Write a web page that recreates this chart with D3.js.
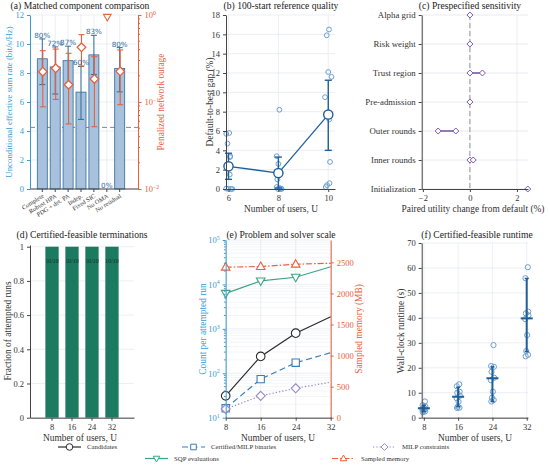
<!DOCTYPE html>
<html><head><meta charset="utf-8">
<script src="https://cdn.jsdelivr.net/npm/d3@7"></script>
<style>body{margin:0;background:#fff}svg{display:block}</style>
</head><body><svg id="c" width="550" height="468"></svg>
<script>
// ---------- data ----------
// (a) matched component comparison
const compCategories = ["Complete","Robust HPA","PDG + det. PA","Indep.","Fixed SIC","No OMA","No residual"];
const compRate   = [8.98, 8.42, 8.85, 6.68, 9.25, 0, 8.32];
const compRateLo = [7.2, 6.55, 7.3, 4.8, 7.9, 0, 6.7];
const compRateHi = [10.35, 9.8, 9.85, 8.45, 10.6, 0, 9.75];
const compSuccess = ["80%","72%","87%","60%","83%","0%","80%"];
const compOutage   = [0.223, 0.244, 0.158, 0.425, 0.184, 1.0, 0.225];
const compOutageLo = [0.088, 0.107, 0.056, 0.259, 0.052, null, 0.093];
const compOutageHi = [0.389, 0.406, 0.363, 0.594, 0.332, null, 0.396];
const rateReference = 4.25;
const rateTicks = [0,2,4,6,8,10,12];
// (b) 100-start reference quality
const gapUsers = [6, 8, 10];
const gapMean = [2.35, 1.65, 7.7];
const gapLo = [1.0, 0.1, 4.0];
const gapHi = [3.7, 3.3, 11.25];
const gapRuns = [
  [5.7, 5.8, 4.7, 3.4, 3.3, 1.5, 0.05, 0, 0, 0],
  [8.2, 3.4, 2.6, 1.0, 0.2, 0.1, 0.05, 0, 0, 0],
  [16.5, 15.9, 12.1, 11.6, 9.5, 7.2, 2.8, 0.6, 0.4, 0.2]
];
const gapJitter = [
  [-0.09, 0.03, -0.04, 0.07, 0.06, 0.05, -0.09, 0.0, 0.1, 0.15],
  [0.04, -0.07, 0.0, -0.04, -0.07, 0.04, 0.1, 0.13, -0.02, 0.07],
  [0.03, -0.06, 0.0, 0.13, -0.13, 0.04, 0.07, 0.05, -0.05, -0.1]
];
const gapTicks = [0,2,4,6,8,10,12,14,16,18];
// (c) prespecified sensitivity
const sensFactors = ["Alpha grid","Risk weight","Trust region","Pre-admission","Outer rounds","Inner rounds","Initialization"];
const sensLow  = [0, 0, 0, 0, -1.35, 0, 2.46];
const sensHigh = [0, 0, 0.53, 0, -0.6, 0.14, 2.46];
const sensTicks = [-2, 0, 2];
// (d) certified-feasible terminations
const termUsers = ["8","16","24","32"];
const termFraction = [1, 1, 1, 1];
const termCounts = ["10/10","10/10","10/10","10/10"];
const termTicks = [0, 0.2, 0.4, 0.6, 0.8, 1];
// (e) problem and solver scale
const scaleUsers = [8, 16, 24, 32];
const candidates = [31, 240, 800, 1870];
const milpBinaries = [16.3, 74, 173, 290];
const milpConstraints = [15.7, 31, 46, 63];
const sqpEvaluations = [6300, 12000, 14500, 25000];
const sampledMemory = [2422, 2433, 2470, 2486];
const memoryTicks = [0, 500, 1000, 1500, 2000, 2500];
// (f) certified-feasible runtime
const runtimeUsers = [8, 16, 24, 32];
const runtimeRuns = [
  [6.5, 5.0, 4.5, 3.8, 3.5, 3.2, 3.0, 2.8, 2.5, 2.2],
  [13.4, 12.6, 10.4, 10.0, 8.8, 7.8, 6.4, 4.4, 4.0, 3.9],
  [29.1, 20.7, 20.4, 18.4, 16.0, 15.0, 10.4, 8.0, 7.1, 6.5],
  [60.3, 55.9, 42.5, 41.8, 41.0, 39.5, 33.1, 26.7, 25.2, 24.6]
];
const runtimeJitter = [0.25, -0.3, 0.35, -0.2, 0.4, -0.35, 0.1, -0.1, 0.3, -0.25];
const runtimeMean = [3.8, 8.4, 15.8, 39.8];
const runtimeLo = [2.5, 4.4, 6.5, 26.5];
const runtimeHi = [5.0, 12.2, 20.4, 55.8];
const runtimeTicks = [0,10,20,30,40,50,60,70];
const userTicks = [8, 16, 24, 32];

// ---------- styles ----------
const svg = d3.select("#c");
const FONT = '"Liberation Serif","Times New Roman",serif';
const SANS = '"DejaVu Sans",sans-serif';
const GRID = "#e2e6ee";
const AXC = "#444";
const TXT = "#333";
const BLUEAX = "#3a9ad0";
const ORANGE = "#e8603c";
const DARKBLUE = "#1f5f99";
const LIGHTBLUE = "#6d9fd0";
const PURPLE = "#7a5aa8";
const fmtInt = d3.format("d");

function styleAxis(g, color, fs) {
  g.attr("font-family", FONT);
  g.selectAll("path.domain").attr("stroke", color).attr("stroke-width", 1);
  g.selectAll(".tick line").attr("stroke", color);
  g.selectAll(".tick text").attr("fill", color === AXC ? TXT : color)
    .attr("font-size", fs || 8.5).attr("font-family", FONT);
  return g;
}
function supTicks(g) {
  g.selectAll(".tick text").each(function(d) {
    const t = d3.select(this);
    const e = Math.round(Math.log10(d));
    t.text(null);
    t.append("tspan").text("10");
    t.append("tspan").attr("dy", "-0.55em").attr("font-size", "0.7em").text(e < 0 ? "\u2212" + (-e) : e);
  });
}
function title(x, y, t) {
  svg.append("text").attr("x", x).attr("y", y).attr("text-anchor", "middle")
    .attr("font-size", 9.6).attr("font-family", FONT).attr("fill", "#222").text(t);
}
function ylabel(x, y, t, color, fs) {
  svg.append("text").attr("transform", `translate(${x},${y}) rotate(-90)`)
    .attr("text-anchor", "middle").attr("dominant-baseline", "middle")
    .attr("font-size", fs || 9.4).attr("font-family", FONT).attr("fill", color || TXT).text(t);
}
function xlabel(x, y, t) {
  svg.append("text").attr("x", x).attr("y", y).attr("text-anchor", "middle")
    .attr("font-size", 9.4).attr("font-family", FONT).attr("fill", TXT).text(t);
}
function hgrid(g, vals, y, x0, x1, col) {
  g.append("g").selectAll("line").data(vals).join("line")
    .attr("x1", x0).attr("x2", x1).attr("y1", d => y(d)).attr("y2", d => y(d))
    .attr("stroke", col || GRID).attr("stroke-width", 0.7);
}
function vgrid(g, vals, x, y0, y1) {
  g.append("g").selectAll("line").data(vals).join("line")
    .attr("y1", y0).attr("y2", y1).attr("x1", d => x(d)).attr("x2", d => x(d))
    .attr("stroke", GRID).attr("stroke-width", 0.7);
}
function diamondPath(r) { return `M0,${-r}L${r},0L0,${r}L${-r},0Z`; }
function triPath(r, down) {
  const s = down ? -1 : 1;
  return `M0,${-s * r}L${r * 0.95},${s * r * 0.65}L${-r * 0.95},${s * r * 0.65}Z`;
}
function minorLog(lo, hi) {
  const out = [];
  for (let dec = lo; dec < hi; dec *= 10) for (let k = 2; k <= 9; k++) out.push(dec * k);
  return out;
}

// ---------- (a) ----------
{
  const P = {l: 30, r: 138, t: 15, b: 189};
  const g = svg.append("g");
  const x = d3.scalePoint().domain(compCategories).range([42.3, 119.7]);
  const y = d3.scaleLinear().domain([0, 12]).range([P.b, P.t]);
  const yo = d3.scaleLog().domain([0.01, 1]).range([P.b, P.t]);
  hgrid(g, rateTicks, y, P.l, P.r);
  vgrid(g, compCategories, x, P.t, P.b);
  g.append("line").attr("x1", P.l).attr("x2", P.r).attr("y1", y(rateReference)).attr("y2", y(rateReference))
    .attr("stroke", "#777").attr("stroke-width", 0.9).attr("stroke-dasharray", "5,3");
  const bw = 10;
  g.append("g").selectAll("rect").data(compCategories).join("rect")
    .attr("x", d => x(d) - bw / 2).attr("width", bw)
    .attr("y", (d, i) => y(compRate[i])).attr("height", (d, i) => y(0) - y(compRate[i]))
    .attr("fill", "#a8c2de").attr("stroke", "#2d6b9b").attr("stroke-width", 0.8);
  // blue error bars
  compCategories.forEach((c, i) => {
    if (compRate[i] <= 0) return;
    const cx = x(c);
    g.append("line").attr("x1", cx).attr("x2", cx).attr("y1", y(compRateLo[i])).attr("y2", y(compRateHi[i]))
      .attr("stroke", "#2d6b9b").attr("stroke-width", 1);
    [compRateLo[i], compRateHi[i]].forEach(v => g.append("line").attr("x1", cx - 3).attr("x2", cx + 3)
      .attr("y1", y(v)).attr("y2", y(v)).attr("stroke", "#2d6b9b").attr("stroke-width", 1));
  });
  // orange error bars + markers
  compCategories.forEach((c, i) => {
    const cx = x(c) + 0.5;
    if (compOutageLo[i] != null) {
      g.append("line").attr("x1", cx).attr("x2", cx).attr("y1", yo(compOutageLo[i])).attr("y2", yo(compOutageHi[i]))
        .attr("stroke", ORANGE).attr("stroke-width", 1.1);
      [compOutageLo[i], compOutageHi[i]].forEach(v => g.append("line").attr("x1", cx - 3).attr("x2", cx + 3)
        .attr("y1", yo(v)).attr("y2", yo(v)).attr("stroke", ORANGE).attr("stroke-width", 1.1));
    }
    if (compOutage[i] >= 1) {
      g.append("path").attr("d", triPath(4, true)).attr("transform", `translate(${cx},${P.t + 2})`)
        .attr("fill", "#fff").attr("stroke", ORANGE).attr("stroke-width", 1.1);
    } else {
      g.append("path").attr("d", diamondPath(4.3)).attr("transform", `translate(${cx},${yo(compOutage[i])})`)
        .attr("fill", "#fff").attr("stroke", ORANGE).attr("stroke-width", 1.3);
    }
  });
  // success labels
  g.append("g").selectAll("text").data(compCategories).join("text")
    .attr("x", d => x(d)).attr("y", (d, i) => y(compRateHi[i]) - 1)
    .attr("text-anchor", "middle").attr("font-family", SANS).attr("font-size", 7.2)
    .attr("fill", "#2d6b9b").text((d, i) => compSuccess[i]);
  // axes
  const xa = g.append("g").attr("transform", `translate(0,${P.b})`);
  xa.append("line").attr("x1", P.l).attr("x2", P.r).attr("stroke", AXC);
  compCategories.forEach(c => {
    xa.append("line").attr("x1", x(c)).attr("x2", x(c)).attr("y2", 3).attr("stroke", AXC);
    xa.append("text").attr("transform", `translate(${x(c) + 2},${8}) rotate(-32)`)
      .attr("text-anchor", "end").attr("font-size", 6.3).attr("font-family", FONT).attr("fill", TXT).text(c);
  });
  const la = g.append("g").attr("transform", `translate(${P.l},0)`).call(d3.axisLeft(y).tickValues(rateTicks).tickSize(3).tickSizeOuter(0).tickFormat(fmtInt));
  styleAxis(la, BLUEAX);
  const ra = g.append("g").attr("transform", `translate(${P.r},0)`).call(d3.axisRight(yo).tickValues([0.01, 0.1, 1]).tickSize(3.5).tickSizeOuter(0));
  styleAxis(ra, ORANGE); supTicks(ra);
  ra.append("g").selectAll("line").data(minorLog(0.01, 1)).join("line")
    .attr("x2", 2).attr("y1", d => yo(d)).attr("y2", d => yo(d)).attr("stroke", ORANGE);
  ylabel(10, 102, "Unconditional effective sum rate (bit/s/Hz)", BLUEAX, 8.8);
  ylabel(162, 102, "Penalized network outage", ORANGE, 9.4);
  title(80, 8.5, "(a) Matched component comparison");
}

// ---------- (b) ----------
{
  const P = {l: 226, r: 335, t: 15, b: 189};
  const g = svg.append("g");
  const x = d3.scaleLinear().domain([5.9, 10.27]).range([P.l, P.r]);
  const y = d3.scaleLinear().domain([0, 18]).range([P.b, P.t]);
  hgrid(g, gapTicks, y, P.l, P.r);
  vgrid(g, gapUsers, x, P.t, P.b);
  gapUsers.forEach((u, k) => {
    g.append("g").selectAll("circle").data(gapRuns[k]).join("circle")
      .attr("cx", (d, i) => x(u + gapJitter[k][i])).attr("cy", d => y(d)).attr("r", 2.4)
      .attr("fill", "none").attr("stroke", LIGHTBLUE).attr("stroke-width", 1);
  });
  gapUsers.forEach((u, i) => {
    const cx = x(u);
    g.append("line").attr("x1", cx).attr("x2", cx).attr("y1", y(gapLo[i])).attr("y2", y(gapHi[i]))
      .attr("stroke", DARKBLUE).attr("stroke-width", 1.4);
    [gapLo[i], gapHi[i]].forEach(v => g.append("line").attr("x1", cx - 3.5).attr("x2", cx + 3.5)
      .attr("y1", y(v)).attr("y2", y(v)).attr("stroke", DARKBLUE).attr("stroke-width", 1.4));
  });
  g.append("path").datum(gapMean).attr("fill", "none").attr("stroke", DARKBLUE).attr("stroke-width", 1.3)
    .attr("d", d3.line().x((d, i) => x(gapUsers[i])).y(d => y(d)));
  g.append("g").selectAll("circle").data(gapMean).join("circle")
    .attr("cx", (d, i) => x(gapUsers[i])).attr("cy", d => y(d)).attr("r", 4.6)
    .attr("fill", "#fff").attr("stroke", DARKBLUE).attr("stroke-width", 1.4);
  const la = g.append("g").attr("transform", `translate(${P.l},0)`).call(d3.axisLeft(y).tickValues(gapTicks).tickSize(3).tickSizeOuter(0).tickFormat(fmtInt));
  styleAxis(la, AXC);
  const ba = g.append("g").attr("transform", `translate(0,${P.b})`).call(d3.axisBottom(x).tickValues(gapUsers).tickSize(3).tickSizeOuter(0).tickFormat(fmtInt));
  styleAxis(ba, AXC);
  ylabel(211, 102, "Default-to-best gap (%)");
  xlabel(281, 212, "Number of users, U");
  title(281, 8.5, "(b) 100-start reference quality");
}

// ---------- (c) ----------
{
  const P = {l: 421.7, r: 528, t: 15, b: 189};
  const g = svg.append("g");
  const x = d3.scaleLinear().domain([-2.05, 2.47]).range([P.l, P.r]);
  const y = d3.scalePoint().domain(sensFactors).range([P.t, P.b]);
  sensFactors.forEach(f => g.append("line").attr("x1", P.l).attr("x2", P.r).attr("y1", y(f)).attr("y2", y(f))
    .attr("stroke", "#e4e2ef").attr("stroke-width", 0.8));
  vgrid(g, sensTicks, x, P.t, P.b);
  g.append("line").attr("x1", x(0)).attr("x2", x(0)).attr("y1", P.t).attr("y2", P.b)
    .attr("stroke", "#888").attr("stroke-width", 0.9).attr("stroke-dasharray", "5,3");
  sensFactors.forEach((f, i) => {
    g.append("line").attr("x1", x(sensLow[i])).attr("x2", x(sensHigh[i])).attr("y1", y(f)).attr("y2", y(f))
      .attr("stroke", PURPLE).attr("stroke-width", 1.6);
    const vals = sensLow[i] === sensHigh[i] ? [sensLow[i]] : [sensLow[i], sensHigh[i]];
    vals.forEach(v => g.append("path").attr("d", diamondPath(3)).attr("transform", `translate(${x(v)},${y(f)})`)
      .attr("fill", "#fff").attr("stroke", PURPLE).attr("stroke-width", 1));
  });
  const la = g.append("g").attr("transform", `translate(${P.l},0)`).call(d3.axisLeft(y).tickSize(3).tickSizeOuter(0));
  styleAxis(la, AXC, 8.8);
  const ba = g.append("g").attr("transform", `translate(0,${P.b})`).call(d3.axisBottom(x).tickValues(sensTicks).tickSize(3).tickSizeOuter(0).tickFormat(d => d < 0 ? "\u2212" + (-d) : d));
  styleAxis(ba, AXC);
  xlabel(473, 212, "Paired utility change from default (%)");
  title(470, 8.5, "(c) Prespecified sensitivity");
}

// ---------- (d) ----------
{
  const P = {l: 30, r: 134, t: 245, b: 417.7};
  const g = svg.append("g");
  const x = d3.scaleBand().domain(termUsers).range([P.l, P.r]).paddingInner(0.335).paddingOuter(0.77);
  const y = d3.scaleLinear().domain([0, 1.01]).range([P.b, P.t]);
  hgrid(g, termTicks, y, P.l, P.r);
  g.append("g").selectAll("rect").data(termUsers).join("rect")
    .attr("x", d => x(d)).attr("width", x.bandwidth())
    .attr("y", (d, i) => y(termFraction[i])).attr("height", (d, i) => y(0) - y(termFraction[i]))
    .attr("fill", "#1b7a5f");
  g.append("g").selectAll("text").data(termUsers).join("text")
    .attr("x", d => x(d) + x.bandwidth() / 2).attr("y", (d, i) => y(termFraction[i]) + 16)
    .attr("text-anchor", "middle").attr("font-size", 5.8).attr("font-family", FONT).attr("fill", "#1a2e28")
    .text((d, i) => termCounts[i]);
  const la = g.append("g").attr("transform", `translate(${P.l},0)`).call(d3.axisLeft(y).tickValues(termTicks).tickSize(3).tickSizeOuter(0).tickFormat(d3.format("~g")));
  styleAxis(la, AXC);
  const ba = g.append("g").attr("transform", `translate(0,${P.b})`).call(d3.axisBottom(x).tickSize(3).tickSizeOuter(0));
  styleAxis(ba, AXC);
  ylabel(8.5, 331, "Fraction of attempted runs");
  xlabel(80, 441, "Number of users, U");
  title(82, 238, "(d) Certified-feasible terminations");
}

// ---------- (e) ----------
const eSeries = [
  {name: "Candidates", values: candidates, color: "#2b2b2b", dash: null, marker: "circle", axis: "left"},
  {name: "Certified/MILP binaries", values: milpBinaries, color: "#3b7dbb", dash: "6,3.5", marker: "square", axis: "left"},
  {name: "MILP constraints", values: milpConstraints, color: "#9b88c9", dash: "1.3,2", marker: "diamond", axis: "left"},
  {name: "SQP evaluations", values: sqpEvaluations, color: "#3aa583", dash: null, marker: "tridown", axis: "left"},
  {name: "Sampled memory", values: sampledMemory, color: ORANGE, dash: "6,2,1.5,2", marker: "triup", axis: "right"}
];
function markerPath(m, s) {
  if (m === "circle") return d3.symbol(d3.symbolCircle, Math.PI * s * s)();
  if (m === "square") return `M${-s * 0.85},${-s * 0.85}h${s * 1.7}v${s * 1.7}h${-s * 1.7}Z`;
  if (m === "diamond") return diamondPath(s * 1.05);
  if (m === "tridown") return triPath(s * 1.05, true);
  return triPath(s * 1.05, false);
}
{
  const P = {l: 225.7, r: 330.7, t: 240, b: 417.7};
  const g = svg.append("g");
  const x = d3.scaleLinear().domain([8, 32]).range([P.l, P.r]);
  const y = d3.scaleLog().domain([10, 1e5]).range([P.b, P.t]);
  const yr = d3.scaleLinear().domain([0, 2860]).range([P.b, P.t]);
  hgrid(g, minorLog(10, 1e5), y, P.l, P.r, "#eef1f5");
  hgrid(g, [10, 100, 1000, 1e4, 1e5], y, P.l, P.r);
  vgrid(g, userTicks, x, P.t, P.b);
  eSeries.forEach(s => {
    const yy = s.axis === "left" ? y : yr;
    g.append("path").datum(s.values).attr("fill", "none").attr("stroke", s.color).attr("stroke-width", 1.2)
      .attr("stroke-dasharray", s.dash)
      .attr("d", d3.line().x((d, i) => x(scaleUsers[i])).y(d => yy(d)));
    g.append("g").selectAll("path").data(s.values.slice(0, 3)).join("path")
      .attr("d", markerPath(s.marker, 4.3))
      .attr("transform", (d, i) => `translate(${x(scaleUsers[i])},${yy(d)})`)
      .attr("fill", "#fff").attr("stroke", s.color).attr("stroke-width", 1.1);
  });
  const la = g.append("g").attr("transform", `translate(${P.l},0)`).call(d3.axisLeft(y).tickValues([10, 100, 1000, 1e4, 1e5]).tickSize(3).tickSizeOuter(0));
  styleAxis(la, BLUEAX); supTicks(la);
  la.append("g").selectAll("line").data(minorLog(10, 1e5)).join("line")
    .attr("x2", -1.8).attr("y1", d => y(d)).attr("y2", d => y(d)).attr("stroke", BLUEAX);
  const ra = g.append("g").attr("transform", `translate(${P.r},0)`).call(d3.axisRight(yr).tickValues(memoryTicks).tickSize(3).tickSizeOuter(0).tickFormat(fmtInt));
  styleAxis(ra, ORANGE);
  const ba = g.append("g").attr("transform", `translate(0,${P.b})`).call(d3.axisBottom(x).tickValues(userTicks).tickSize(3).tickSizeOuter(0).tickFormat(fmtInt));
  styleAxis(ba, AXC);
  ylabel(204, 329, "Count per attempted run", BLUEAX);
  ylabel(360, 329, "Sampled memory (MB)", ORANGE);
  xlabel(278, 441, "Number of users, U");
  title(281, 238, "(e) Problem and solver scale");
}

// ---------- (f) ----------
{
  const P = {l: 421.7, r: 528, t: 243, b: 417.7};
  const g = svg.append("g");
  const x = d3.scaleLinear().domain([7.5, 32.3]).range([P.l, P.r]);
  const y = d3.scaleLinear().domain([0, 70]).range([P.b, P.t]);
  hgrid(g, runtimeTicks, y, P.l, P.r);
  vgrid(g, userTicks, x, P.t, P.b);
  runtimeUsers.forEach((u, k) => {
    g.append("g").selectAll("circle").data(runtimeRuns[k]).join("circle")
      .attr("cx", (d, i) => x(u + runtimeJitter[i])).attr("cy", d => y(d)).attr("r", 2.6)
      .attr("fill", "none").attr("stroke", LIGHTBLUE).attr("stroke-width", 1);
  });
  runtimeUsers.forEach((u, i) => {
    const cx = x(u);
    g.append("line").attr("x1", cx).attr("x2", cx).attr("y1", y(runtimeLo[i])).attr("y2", y(runtimeHi[i]))
      .attr("stroke", DARKBLUE).attr("stroke-width", 2);
    [runtimeLo[i], runtimeHi[i]].forEach(v => g.append("line").attr("x1", cx - 2).attr("x2", cx + 2)
      .attr("y1", y(v)).attr("y2", y(v)).attr("stroke", DARKBLUE).attr("stroke-width", 1.4));
    g.append("line").attr("x1", cx - 6).attr("x2", cx + 6).attr("y1", y(runtimeMean[i])).attr("y2", y(runtimeMean[i]))
      .attr("stroke", DARKBLUE).attr("stroke-width", 2);
  });
  const la = g.append("g").attr("transform", `translate(${P.l},0)`).call(d3.axisLeft(y).tickValues(runtimeTicks).tickSize(3).tickSizeOuter(0).tickFormat(fmtInt));
  styleAxis(la, AXC);
  const ba = g.append("g").attr("transform", `translate(0,${P.b})`).call(d3.axisBottom(x).tickValues(userTicks).tickSize(3).tickSizeOuter(0).tickFormat(fmtInt));
  styleAxis(ba, AXC);
  ylabel(402, 331, "Wall-clock runtime (s)");
  xlabel(475, 441, "Number of users, U");
  title(477, 238, "(f) Certified-feasible runtime");
}

// ---------- legend ----------
{
  const pos = [
    {x: 58, y: 447}, {x: 182, y: 447}, {x: 373, y: 447}, {x: 145, y: 458.5}, {x: 332, y: 458.5}
  ];
  eSeries.forEach((s, i) => {
    const p = pos[i];
    const g = svg.append("g").attr("transform", `translate(${p.x},${p.y})`);
    g.append("line").attr("x1", 0).attr("x2", 23).attr("stroke", s.color).attr("stroke-width", 1.2)
      .attr("stroke-dasharray", s.dash);
    g.append("path").attr("d", markerPath(s.marker, 3.3)).attr("transform", "translate(11.5,0)")
      .attr("fill", "#fff").attr("stroke", s.color).attr("stroke-width", 1);
    g.append("text").attr("x", 29).attr("y", 2.3).attr("font-size", 6.8).attr("font-family", FONT)
      .attr("fill", TXT).text(s.name);
  });
}
</script>
</body></html>
